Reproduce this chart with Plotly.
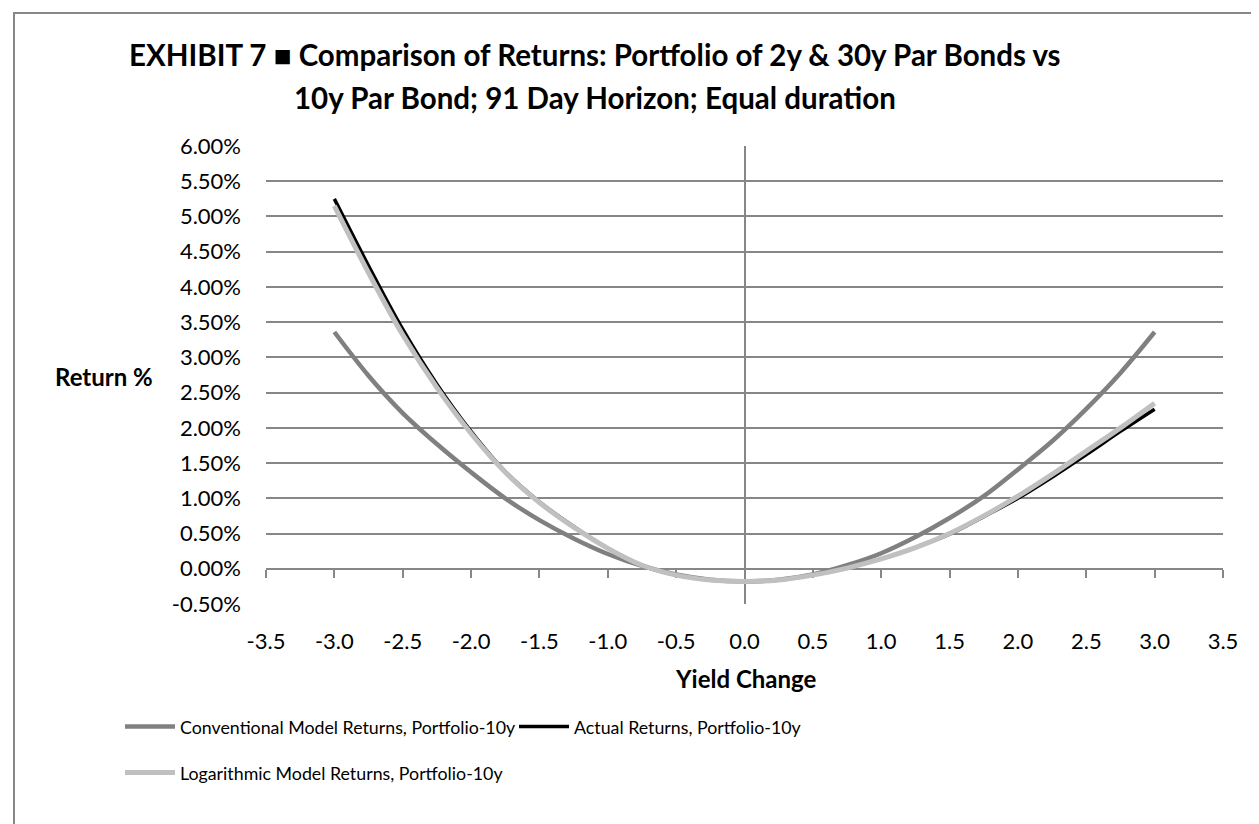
import plotly.graph_objects as go

# ---------------- data ----------------
yield_change = [-3.0, -2.75, -2.5, -2.25, -2.0, -1.75, -1.5, -1.25, -1.0, -0.75, -0.5, -0.25,
                0.0, 0.25, 0.5, 0.75, 1.0, 1.25, 1.5, 1.75, 2.0, 2.25, 2.5, 2.75, 3.0]
conventional = [3.36, 2.74, 2.21, 1.77, 1.37, 1.00, 0.69, 0.43, 0.21, 0.04, -0.08, -0.155,
                -0.18, -0.155, -0.08, 0.05, 0.22, 0.45, 0.72, 1.03, 1.41, 1.81, 2.27, 2.78, 3.36]
actual = [5.25, 4.30, 3.40, 2.62, 1.95, 1.38, 0.95, 0.60, 0.29, 0.05, -0.09, -0.16,
          -0.18, -0.16, -0.09, 0.01, 0.14, 0.30, 0.49, 0.74, 1.00, 1.30, 1.62, 1.95, 2.265]
logarithmic = [5.15, 4.20, 3.32, 2.57, 1.92, 1.37, 0.94, 0.59, 0.29, 0.05, -0.09, -0.16,
               -0.18, -0.16, -0.09, 0.01, 0.14, 0.30, 0.50, 0.75, 1.03, 1.34, 1.67, 2.00, 2.35]

x_tick_values = [-3.5, -3.0, -2.5, -2.0, -1.5, -1.0, -0.5, 0.0, 0.5, 1.0, 1.5, 2.0, 2.5, 3.0, 3.5]
x_tick_labels = ["-3.5", "-3.0", "-2.5", "-2.0", "-1.5", "-1.0", "-0.5", "0.0",
                 "0.5", "1.0", "1.5", "2.0", "2.5", "3.0", "3.5"]
y_tick_values = [-0.5, 0.0, 0.5, 1.0, 1.5, 2.0, 2.5, 3.0, 3.5, 4.0, 4.5, 5.0, 5.5, 6.0]
y_tick_labels = ["-0.50%", "0.00%", "0.50%", "1.00%", "1.50%", "2.00%", "2.50%",
                 "3.00%", "3.50%", "4.00%", "4.50%", "5.00%", "5.50%", "6.00%"]

series_names = ["Conventional Model Returns, Portfolio-10y",
                "Actual Returns, Portfolio-10y",
                "Logarithmic Model Returns, Portfolio-10y"]
title_lines = ["EXHIBIT 7 \u25a0 Comparison of Returns: Portfolio of 2y & 30y Par Bonds vs",
               "10y Par Bond; 91 Day Horizon; Equal duration"]
x_title = "Yield Change"
y_title = "Return %"

# ---------------- layout geometry ----------------
W, H = 1259, 824
ML, MR, MT, MB = 258, 44, 138, 228
PW, PH = W - ML - MR, H - MT - MB
FONT = "Lato, 'Open Sans', sans-serif"
GRID = "#878787"


def px_x(p):
    return (p - ML) / PW


def px_y(p):
    return (H - MB - p) / PH


fig = go.Figure()
fig.add_trace(go.Scatter(x=yield_change, y=conventional, name=series_names[0], mode="lines",
                         line=dict(color="#808080", width=4.5, shape="spline"), legend="legend"))
fig.add_trace(go.Scatter(x=yield_change, y=actual, name=series_names[1], mode="lines",
                         line=dict(color="#000000", width=3.5, shape="spline"), legend="legend2"))
fig.add_trace(go.Scatter(x=yield_change, y=logarithmic, name=series_names[2], mode="lines",
                         line=dict(color="#c0c0c0", width=5, shape="spline"), legend="legend3",
                         xaxis="x2"))

ymin, ymax = -0.5, 6.0
LEG_FONT = dict(family=FONT, size=17.8, color="#000")
fig.update_layout(
    width=W, height=H,
    margin=dict(l=ML, r=MR, t=MT, b=MB),
    paper_bgcolor="white", plot_bgcolor="white",
    font=dict(family=FONT, size=22, color="#000000"),
    showlegend=True,
    xaxis=dict(range=[-3.5, 3.5], tickmode="array", tickvals=x_tick_values, ticktext=x_tick_labels,
               showgrid=False, zeroline=True, zerolinecolor=GRID, zerolinewidth=2,
               showline=False, ticks="", ticklabelstandoff=22,
               tickfont=dict(family=FONT, size=22, color="#000")),
    xaxis2=dict(range=[-3.5, 3.5], tickmode="array", tickvals=x_tick_values,
                overlaying="x", anchor="free",
                position=(0 - ymin) / (ymax - ymin), side="bottom",
                showline=True, linecolor=GRID, linewidth=2,
                ticks="outside", ticklen=8, tickwidth=2, tickcolor=GRID,
                showticklabels=False, showgrid=False, zeroline=False, layer="below traces"),
    yaxis=dict(range=[ymin, ymax], tickmode="array", tickvals=y_tick_values, ticktext=y_tick_labels,
               showgrid=True, gridcolor=GRID, gridwidth=2, zeroline=False,
               showline=False, ticks="", ticklabelstandoff=24,
               tickfont=dict(family=FONT, size=22, color="#000")),
    legend=dict(orientation="h", xref="container", yref="container",
                x=112 / W, y=1 - 719 / H, xanchor="left", yanchor="middle",
                font=LEG_FONT, itemwidth=50, bgcolor="rgba(0,0,0,0)"),
    legend2=dict(orientation="h", xref="container", yref="container",
                 x=506 / W, y=1 - 719 / H, xanchor="left", yanchor="middle",
                 font=LEG_FONT, itemwidth=50, bgcolor="rgba(0,0,0,0)"),
    legend3=dict(orientation="h", xref="container", yref="container",
                 x=112 / W, y=1 - 765 / H, xanchor="left", yanchor="middle",
                 font=LEG_FONT, itemwidth=50, bgcolor="rgba(0,0,0,0)"),
)

fig.add_annotation(text="<b>" + title_lines[0] + "</b>", xref="paper", yref="paper",
                   x=px_x(587), y=px_y(47), xanchor="center", yanchor="middle",
                   showarrow=False, font=dict(family=FONT, size=29.5, color="#000"))
fig.add_annotation(text="<b>" + title_lines[1] + "</b>", xref="paper", yref="paper",
                   x=px_x(587), y=px_y(89), xanchor="center", yanchor="middle",
                   showarrow=False, font=dict(family=FONT, size=29.5, color="#000"))
fig.add_annotation(text="<b>" + y_title + "</b>", xref="paper", yref="paper",
                   x=px_x(96), y=px_y(368), xanchor="center", yanchor="middle",
                   showarrow=False, font=dict(family=FONT, size=24, color="#000"))
fig.add_annotation(text="<b>" + x_title + "</b>", xref="paper", yref="paper",
                   x=px_x(737), y=px_y(670), xanchor="center", yanchor="middle",
                   showarrow=False, font=dict(family=FONT, size=24, color="#000"))

# outer chart border
fig.add_shape(type="rect", xref="paper", yref="paper",
              x0=px_x(6), x1=px_x(1254), y0=px_y(830), y1=px_y(5),
              line=dict(color=GRID, width=2), fillcolor="rgba(0,0,0,0)", layer="below")

fig.write_html("out.html")
